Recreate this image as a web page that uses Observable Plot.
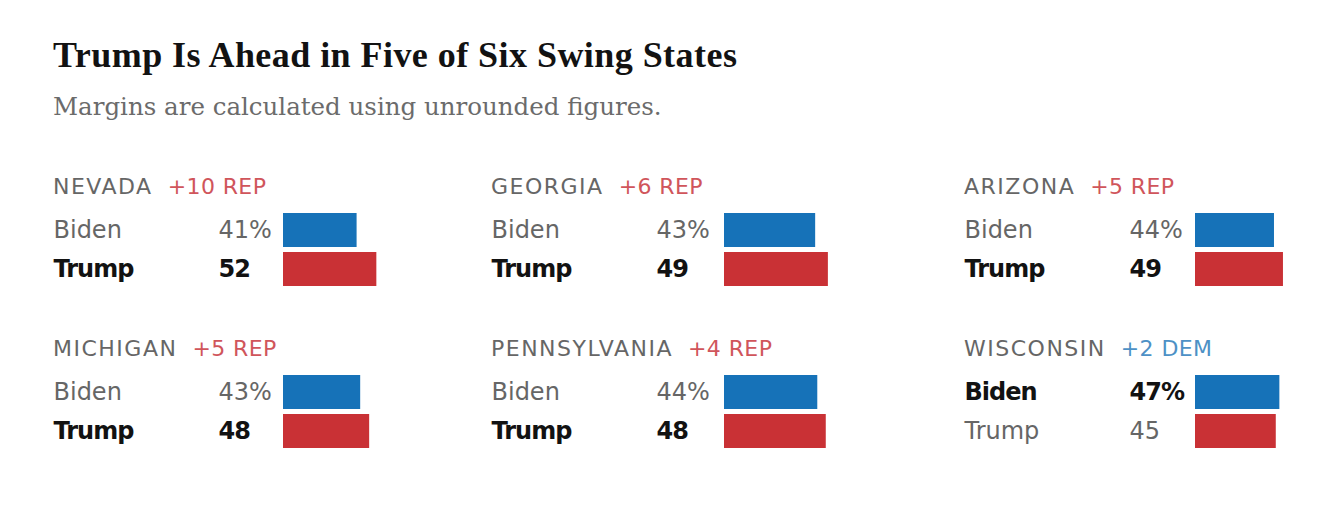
<!DOCTYPE html>
<html>
<head>
<meta charset="utf-8">
<script src="https://cdn.jsdelivr.net/npm/d3@7"></script>
<script src="https://cdn.jsdelivr.net/npm/@observablehq/plot@0.6"></script>
<style>
  body { margin: 0; background: #fff; }
  #wrap { position: relative; width: 1337px; height: 506px; overflow: hidden; }
  .title { position: absolute; left: 53px; top: 35px; font-family: "Liberation Serif", serif; font-weight: bold; font-size: 36px; line-height: 40px; color: #121212; letter-spacing: 0.45px; white-space: nowrap; }
  .subtitle { position: absolute; left: 53px; top: 91px; font-family: "DejaVu Serif", serif; font-size: 24.5px; line-height: 32px; color: #6b6b6b; white-space: nowrap; }
  .head { position: absolute; font-family: "DejaVu Sans", sans-serif; font-size: 22px; line-height: 22px; white-space: nowrap; }
  .state { color: #666; letter-spacing: 1.5px; text-transform: uppercase; }
  .margin { margin-left: 15px; letter-spacing: 0.4px; }
  .panel { position: absolute; }
  .panel g[font-weight="bold"] { letter-spacing: -1px; }
</style>
</head>
<body>
<div id="wrap">
  <div class="title">Trump Is Ahead in Five of Six Swing States</div>
  <div class="subtitle">Margins are calculated using unrounded figures.</div>
</div>
<script>
const states = ["Nevada", "Georgia", "Arizona", "Michigan", "Pennsylvania", "Wisconsin"];
const candidates = ["Biden", "Trump"];
const bidenValues = [41, 43, 44, 43, 44, 47];
const trumpValues = [52, 49, 49, 48, 48, 45];
const marginLabels = ["+10 REP", "+6 REP", "+5 REP", "+5 REP", "+4 REP", "+2 DEM"];
const marginParty = ["REP", "REP", "REP", "REP", "REP", "DEM"];

const colLefts = [53, 491, 964];
const rowTops = [168, 330];
const barStarts = [230, 233, 231];
const barSpans = [179.5, 212, 179.5];
const candColors = ["#1672b8", "#c93135"];
const partyColor = {REP: "#d0555b", DEM: "#4d91c6"};
const fontFam = "DejaVu Sans, sans-serif";

const wrap = document.getElementById("wrap");

states.forEach((st, i) => {
  const col = i % 3, row = Math.floor(i / 3);
  const left = colLefts[col], top = rowTops[row];

  const head = document.createElement("div");
  head.className = "head";
  head.style.left = left + "px";
  head.style.top = (top + 8) + "px";
  const s1 = document.createElement("span");
  s1.className = "state"; s1.textContent = st;
  const s2 = document.createElement("span");
  s2.className = "margin"; s2.textContent = marginLabels[i];
  s2.style.color = partyColor[marginParty[i]];
  head.append(s1, s2);
  wrap.appendChild(head);

  const vals = [bidenValues[i], trumpValues[i]];
  const lead = vals[0] > vals[1] ? "Biden" : "Trump";
  const rows = candidates.map((c, k) => ({
    cand: c,
    value: vals[k],
    label: k === 0 ? vals[k] + "%" : String(vals[k]),
    lead: c === lead
  }));
  const leadRows = rows.filter(d => d.lead);
  const trailRows = rows.filter(d => !d.lead);

  const width = col === 2 ? 1337 - left : 440;
  const chart = Plot.plot({
    width, height: 130,
    marginTop: 45, marginBottom: 12, marginLeft: 0, marginRight: 0,
    x: {domain: [0, 100], range: [barStarts[col], barStarts[col] + barSpans[col]], axis: null},
    y: {domain: candidates, paddingInner: 5 / 39, paddingOuter: 0, axis: null},
    color: {domain: candidates, range: candColors},
    style: {background: "none", overflow: "visible"},
    marks: [
      Plot.barX(rows, {x: "value", y: "cand", fill: "cand"}),
      Plot.text(trailRows, {y: "cand", text: "cand", frameAnchor: "left", textAnchor: "start", fill: "#666", fontSize: 24, fontFamily: fontFam}),
      Plot.text(leadRows, {y: "cand", text: "cand", frameAnchor: "left", textAnchor: "start", fill: "#121212", fontSize: 24, fontWeight: "bold", fontFamily: fontFam}),
      Plot.text(trailRows, {y: "cand", text: "label", frameAnchor: "left", textAnchor: "start", dx: 165, fill: "#666", fontSize: 24, fontFamily: fontFam}),
      Plot.text(leadRows, {y: "cand", text: "label", frameAnchor: "left", textAnchor: "start", dx: 165, fill: "#121212", fontSize: 24, fontWeight: "bold", fontFamily: fontFam})
    ]
  });
  chart.classList.add("panel");
  chart.style.left = left + "px";
  chart.style.top = top + "px";
  chart.style.position = "absolute";
  wrap.appendChild(chart);
});
</script>
</body>
</html>
